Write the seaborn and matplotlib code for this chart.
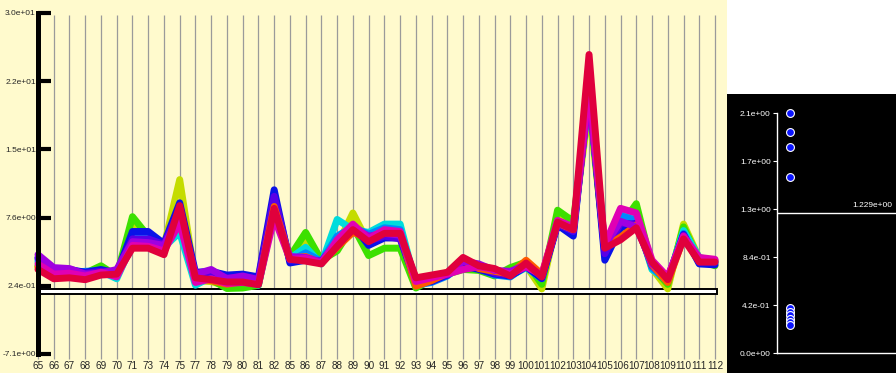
import numpy as np
import pandas as pd
import matplotlib
matplotlib.use("Agg")
import matplotlib.pyplot as plt
import seaborn as sns
from matplotlib.patches import Rectangle

# ---------------- data ----------------
cats = [65, 66, 67, 68, 69, 70, 71, 73, 74, 75, 77, 78, 79, 80, 81, 82, 85, 86, 87, 88,
        89, 90, 91, 92, 93, 94, 95, 96, 97, 98, 99, 100, 101, 102, 103, 104, 105, 106,
        107, 108, 109, 110, 111, 112]

s_yellowgreen = [2.2, 1.3, 1.2, 1.3, 2.0, 1.4, 6.8, 5.2, 4.5, 11.7, 0.8, 0.7, 0.2, 0.3, 0.4, 8.3,
                 3.0, 5.0, 3.1, 4.6, 8.1, 4.8, 5.5, 5.5, 0.3, 1.0, 1.7, 2.3, 2.0, 1.6, 1.6, 2.4,
                 -0.1, 7.6, 6.8, 19.5, 4.3, 6.0, 7.8, 2.1, -0.1, 6.9, 3.2, 2.6]
s_green = [2.4, 1.4, 1.4, 1.6, 2.4, 1.3, 7.7, 5.6, 4.2, 7.4, 1.0, 0.9, -0.05, 0.0, 0.3, 8.4,
           3.4, 6.0, 3.0, 4.0, 6.7, 3.5, 4.3, 4.3, 0.0, 0.9, 1.5, 2.0, 1.9, 1.3, 2.2, 2.8,
           0.4, 8.4, 7.2, 20.5, 4.0, 6.7, 9.1, 2.3, 0.4, 6.6, 3.0, 2.4]
s_cyan = [2.8, 1.8, 1.5, 1.6, 1.8, 1.0, 4.8, 5.0, 4.4, 6.0, 0.3, 1.2, 1.2, 0.9, 0.3, 8.2,
          3.2, 4.4, 2.6, 7.4, 6.3, 6.0, 6.9, 6.9, 0.4, 0.9, 1.6, 2.5, 2.2, 1.6, 1.3, 2.2,
          1.0, 7.2, 6.5, 20.8, 4.5, 8.4, 7.5, 2.0, 0.8, 6.2, 3.3, 2.9]
s_dodger = [3.0, 1.7, 1.7, 1.8, 1.9, 1.4, 5.6, 5.4, 4.3, 8.0, 1.3, 1.4, 0.8, 1.0, 0.6, 9.5,
            2.9, 3.8, 2.9, 5.6, 6.6, 5.8, 6.5, 6.3, 0.3, 0.6, 1.3, 2.6, 2.1, 1.4, 1.2, 2.4,
            1.1, 7.0, 6.0, 21.2, 4.0, 7.8, 7.3, 2.2, 0.7, 5.9, 2.7, 2.7]
s_blue = [3.3, 2.0, 2.0, 1.7, 2.0, 1.6, 6.1, 6.1, 4.8, 9.2, 1.7, 1.8, 1.4, 1.5, 1.2, 10.6,
          2.7, 3.0, 2.8, 4.8, 6.8, 4.6, 5.4, 5.4, 0.5, 0.7, 1.4, 2.4, 2.0, 1.5, 1.3, 2.3,
          1.0, 6.8, 5.6, 21.7, 3.0, 6.5, 7.0, 2.5, 1.0, 5.8, 2.6, 2.5]
s_violet = [3.2, 1.9, 1.8, 1.6, 1.8, 1.8, 5.3, 5.3, 4.7, 8.5, 1.4, 1.6, 1.1, 1.2, 1.0, 9.9,
            3.0, 3.1, 2.9, 4.9, 6.4, 5.1, 5.6, 5.3, 0.8, 1.0, 1.4, 2.7, 2.3, 1.6, 1.4, 2.6,
            1.2, 6.9, 6.1, 21.5, 3.7, 7.0, 6.9, 2.4, 0.9, 5.7, 2.8, 2.8]
s_orange = [2.3, 1.2, 1.5, 1.2, 1.6, 1.7, 4.5, 4.4, 3.9, 8.2, 1.0, 0.8, 0.4, 0.7, 0.5, 8.8,
            3.2, 3.4, 2.7, 4.4, 6.0, 5.4, 6.2, 6.0, 0.2, 0.8, 1.6, 3.0, 2.1, 1.8, 1.5, 3.0,
            1.5, 7.0, 6.3, 21.3, 4.4, 5.5, 6.8, 2.5, 0.6, 5.4, 3.0, 2.9]
s_purple = [3.6, 2.2, 2.1, 1.5, 1.6, 2.0, 5.0, 4.9, 4.6, 7.8, 1.5, 2.0, 1.0, 1.3, 0.9, 8.0,
            3.4, 3.3, 2.8, 5.0, 6.5, 5.6, 5.9, 5.7, 1.0, 1.2, 1.6, 2.9, 2.6, 1.9, 1.8, 2.5,
            1.3, 7.0, 6.4, 21.0, 4.6, 7.2, 6.6, 2.6, 1.2, 5.5, 3.2, 3.0]
s_magenta = [2.6, 1.5, 1.6, 1.3, 1.7, 1.2, 4.6, 4.5, 4.0, 7.0, 0.6, 1.0, 0.5, 0.6, 0.4, 7.6,
             3.1, 3.2, 2.7, 5.2, 6.9, 5.3, 6.3, 6.1, 0.7, 1.1, 1.5, 2.0, 2.3, 2.0, 1.5, 2.3,
             1.4, 7.3, 6.6, 22.0, 4.7, 8.6, 8.1, 3.0, 1.2, 5.6, 3.3, 3.1]
s_crimson = [2.0, 1.0, 1.1, 0.9, 1.4, 1.5, 4.3, 4.3, 3.6, 8.9, 1.1, 0.9, 0.65, 0.65, 0.35, 8.6,
             3.1, 2.9, 2.6, 4.5, 6.3, 5.0, 5.9, 5.9, 1.1, 1.4, 1.7, 3.3, 2.4, 2.1, 1.3, 2.7,
             1.2, 7.1, 6.3, 25.2, 4.3, 5.2, 6.5, 2.8, 0.9, 5.3, 2.8, 2.8]

series_names = ["yellowgreen", "green", "cyan", "dodger", "blue", "violet",
                "orange", "purple", "magenta", "crimson"]
series_colors = ["#c4dc00", "#3ce000", "#00dcdc", "#0088ff", "#0a12e8", "#5a00e6",
                 "#ff5a00", "#a000e0", "#e000b4", "#e0003c"]
series_values = [s_yellowgreen, s_green, s_cyan, s_dodger, s_blue, s_violet,
                 s_orange, s_purple, s_magenta, s_crimson]

left_yticks = [-7.12, 0.24, 7.6, 14.96, 22.32, 29.68]
left_ylabels = ["-7.1e+00", "2.4e-01", "7.6e+00", "1.5e+01", "2.2e+01", "3.0e+01"]
ref_value = -0.35

dot_values = [2.10, 1.935, 1.80, 1.54, 0.39, 0.36, 0.33, 0.30, 0.27, 0.245]
right_yticks = [0.0, 0.42, 0.84, 1.26, 1.68, 2.1]
right_ylabels = ["0.0e+00", "4.2e-01", "8.4e-01", "1.3e+00", "1.7e+00", "2.1e+00"]
threshold = 1.229
threshold_label = "1.229e+00"

# ---------------- build frame ----------------
rows = []
for name, vals in zip(series_names, series_values):
    for i, v in enumerate(vals):
        rows.append({"series": name, "pos": i, "value": v})
df = pd.DataFrame(rows)
palette = dict(zip(series_names, series_colors))

sns.set_style("white")
plt.rcParams["font.family"] = ["Liberation Sans", "DejaVu Sans"]

W, H = 896, 373
fig = plt.figure(figsize=(W / 100, H / 100), dpi=100)
fig.patch.set_facecolor("white")
fig.add_artist(Rectangle((0, 0), 727 / W, 1, transform=fig.transFigure,
                         facecolor="#fffacd", edgecolor="none", zorder=0))
fig.add_artist(Rectangle((727 / W, 0), (W - 727) / W, 279 / H, transform=fig.transFigure,
                         facecolor="black", edgecolor="none", zorder=0))

# ---------------- left panel ----------------
ax = fig.add_axes([38 / W, 19 / H, 677 / W, 341 / H])
ax.set_facecolor("none")
n = len(cats)
ax.vlines(range(n), -0.015, 0.994, transform=ax.get_xaxis_transform(),
          colors="#9a9a9a", linewidth=0.9, zorder=1, clip_on=False)
ax.add_patch(Rectangle((0, ref_value - 0.25), n - 1 + 0.12, 0.5, facecolor="white",
                       edgecolor="black", linewidth=1.4, zorder=1.8, clip_on=False))
sns.lineplot(data=df, x="pos", y="value", hue="series", hue_order=series_names,
             palette=palette, linewidth=5, estimator=None, sort=False,
             legend=False, ax=ax)
for ln in ax.lines:
    ln.set_clip_on(False)
ax.set_xlim(0, n - 1)
ax.set_ylim(left_yticks[0], left_yticks[-1])
ax.set_xticks(range(n))
ax.set_xticklabels([str(c) for c in cats], fontsize=7.2)
ax.set_yticks(left_yticks)
ax.set_yticklabels(left_ylabels, fontsize=6)
ax.set_xlabel("")
ax.set_ylabel("")
for s in ["top", "right", "bottom"]:
    ax.spines[s].set_visible(False)
ax.spines["left"].set_color("black")
ax.spines["left"].set_linewidth(3.6)
ax.spines["left"].set_zorder(5)
ax.tick_params(axis="y", left=True, direction="in", length=9, width=3,
               color="black", pad=1.5, zorder=5)
ax.tick_params(axis="x", bottom=False, length=0, pad=5)

# ---------------- right panel ----------------
ax2 = fig.add_axes([777 / W, 20 / H, 119 / W, 240 / H])
ax2.set_facecolor("none")
ax2.axhline(threshold, color="white", linewidth=1.0, zorder=1)
ax2.text(0.97, threshold + 0.03, threshold_label, transform=ax2.get_yaxis_transform(),
         ha="right", va="bottom", color="white", fontsize=6)
sns.scatterplot(x=[0] * len(dot_values), y=dot_values, color="#0a14ff", edgecolor="white",
                linewidth=0.8, s=32, ax=ax2, zorder=3, clip_on=False)
ax2.set_xlim(-0.12, 0.98)
ax2.set_ylim(0, 2.1)
ax2.set_xticks([])
ax2.set_yticks(right_yticks)
ax2.set_yticklabels(right_ylabels, fontsize=6, color="white")
for s in ["top", "right"]:
    ax2.spines[s].set_visible(False)
for s in ["left", "bottom"]:
    ax2.spines[s].set_color("white")
    ax2.spines[s].set_linewidth(1.0)
ax2.tick_params(axis="y", left=True, direction="out", length=3, width=0.8,
                color="white", pad=1.5)

fig.savefig("out.png", dpi=100)
